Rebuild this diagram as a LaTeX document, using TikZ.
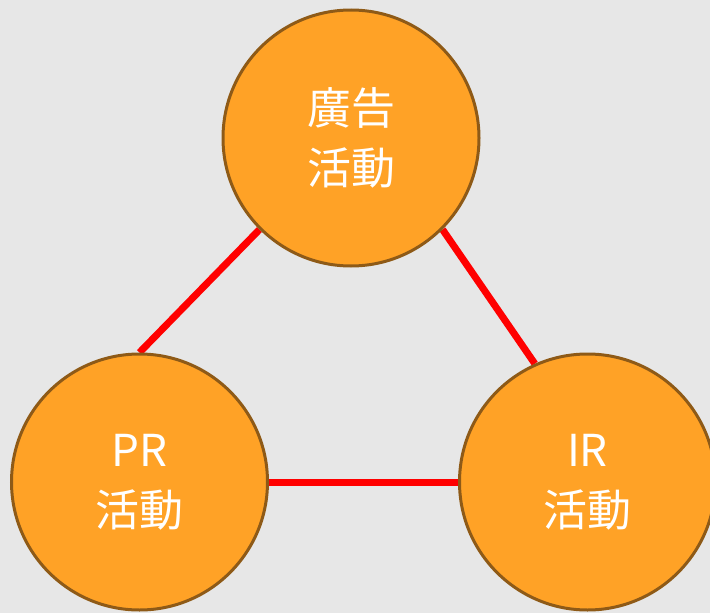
\documentclass[tikz,border=0pt]{standalone}
\usepackage{fontspec}
\usetikzlibrary{backgrounds}
\newfontfamily\cjk{Noto Sans CJK JP}
\definecolor{bgc}{HTML}{E7E7E7}
\definecolor{orf}{HTML}{FFA226}
\definecolor{brd}{HTML}{8E5A17}
\definecolor{lnk}{HTML}{FF0000}
\begin{document}
\begin{tikzpicture}[x=1pt,y=-1pt,
  bubble/.style={circle,fill=orf,draw=brd,line width=3pt,minimum size=256pt,inner sep=0pt,
    text=white,align=center,font=\cjk\fontsize{44}{60}\selectfont},
  link/.style={draw=lnk,line width=7pt}]
\useasboundingbox (0,0) rectangle (710,613);
\node[bubble] (ad) at (351,138) {廣告\\活動};
\node[bubble] (pr) at (139.5,482) {PR\\活動};
\node[bubble] (ir) at (587.5,482) {IR\\活動};
\begin{pgfonlayer}{background}
\clip (0,0) rectangle (710,613);
\fill[bgc] (0,0) rectangle (710,613);
\draw[link] (ad.225) -- (pr.90);
\draw[link] (ad.-45) -- (ir.114);
\draw[link] (pr.east) -- (ir.west);
\end{pgfonlayer}
\end{tikzpicture}
\end{document}
